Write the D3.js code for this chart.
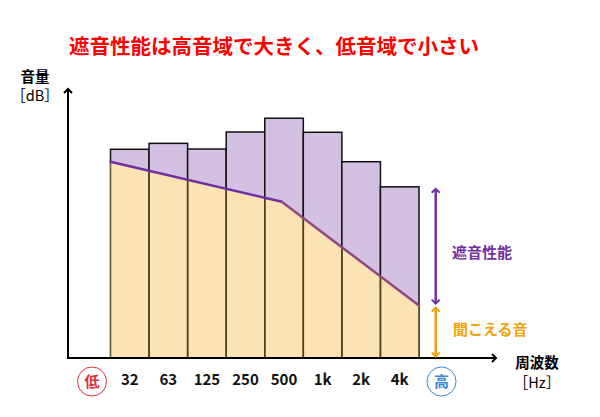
<html lang="ja">
<head>
  <meta charset="UTF-8">
  <title>遮音性能</title>
  <style>
    body { margin: 0; background: #fff; }
    text { font-family: "Noto Sans CJK JP", "Noto Sans", sans-serif; }
  </style>
</head>
<body>
  <script src="https://d3js.org/d3.v7.min.js"></script>
  <script>
    // frequency bands and sound insulation levels (bar tops)
    const bands = ["32", "63", "125", "250", "500", "1k", "2k", "4k"];
    const barValues = [77.3, 79.5, 77.4, 83.7, 88.8, 83.6, 72.7, 63.4];
    // audible sound line: position in band units, level
    const linePos = [0, 4.44, 8];
    const lineValues = [72.7, 57.9, 19.4];

    const w = 600, h = 417;
    const x0 = 68, yBase = 358;

    const svg = d3.select("body").append("svg")
      .attr("width", w)
      .attr("height", h);

    const defs = svg.append("defs");
    function marker(id, color) {
      defs.append("marker")
        .attr("id", id)
        .attr("viewBox", "-6 -6 12 12")
        .attr("markerWidth", 12)
        .attr("markerHeight", 12)
        .attr("markerUnits", "userSpaceOnUse")
        .attr("orient", "auto-start-reverse")
        .append("path")
        .attr("d", "M-4,-4 L0,0 L-4,4")
        .attr("fill", "none")
        .attr("stroke", color)
        .attr("stroke-width", 2);
    }
    marker("arrBlack", "#000");
    marker("arrPurple", "#7030a0");
    marker("arrOrange", "#f0a30a");

    //scales
    const xScale = d3.scaleBand()
      .domain(bands)
      .range([110.5, 419])
      .padding(0);
    const xPos = d3.scaleLinear()
      .domain([0, bands.length])
      .range([110.5, 419]);
    const yScale = d3.scaleLinear()
      .domain([0, 100])
      .range([yBase, 88]);

    const lineData = linePos.map((p, i) => [p, lineValues[i]]);

    //purple bars
    svg.selectAll("rect.bar")
      .data(bands)
      .enter()
      .append("rect")
      .attr("class", "bar")
      .attr("x", d => xScale(d))
      .attr("y", (d, i) => yScale(barValues[i]))
      .attr("width", xScale.bandwidth())
      .attr("height", (d, i) => yBase - yScale(barValues[i]))
      .attr("fill", "#d4c0e3")
      .attr("stroke", "#111")
      .attr("stroke-width", 1.5);

    //audible sound area
    const area = d3.area()
      .x(d => xPos(d[0]))
      .y0(yBase)
      .y1(d => yScale(d[1]));
    svg.append("path")
      .datum(lineData)
      .attr("d", area)
      .attr("fill", "#fbe3b4");

    defs.append("clipPath")
      .attr("id", "areaClip")
      .append("path")
      .datum(lineData)
      .attr("d", area);

    //bar dividers inside the yellow area
    svg.append("g")
      .attr("clip-path", "url(#areaClip)")
      .selectAll("rect")
      .data(bands)
      .enter()
      .append("rect")
      .attr("x", d => xScale(d))
      .attr("y", 0)
      .attr("width", xScale.bandwidth())
      .attr("height", yBase)
      .attr("fill", "none")
      .attr("stroke", "#4f3f1c")
      .attr("stroke-width", 1.5);

    //line segments
    const segColors = ["#7030a0", "#8e4a7e"];
    for (let i = 0; i < lineData.length - 1; i++) {
      svg.append("line")
        .attr("x1", xPos(lineData[i][0]))
        .attr("y1", yScale(lineData[i][1]))
        .attr("x2", xPos(lineData[i + 1][0]))
        .attr("y2", yScale(lineData[i + 1][1]))
        .attr("stroke", segColors[i])
        .attr("stroke-width", 2.5)
        .attr("stroke-linecap", "round");
    }

    //axes with arrows
    svg.append("line")
      .attr("x1", x0).attr("y1", yBase + 1)
      .attr("x2", x0).attr("y2", 89)
      .attr("stroke", "#000").attr("stroke-width", 2)
      .attr("marker-end", "url(#arrBlack)");
    svg.append("line")
      .attr("x1", x0 - 1).attr("y1", yBase)
      .attr("x2", 496).attr("y2", yBase)
      .attr("stroke", "#000").attr("stroke-width", 2)
      .attr("marker-end", "url(#arrBlack)");

    //x tick labels
    const xAxis = d3.axisBottom(xScale).tickSize(0).tickPadding(0);
    const gx = svg.append("g")
      .attr("transform", "translate(0," + 380 + ")")
      .call(xAxis);
    gx.select(".domain").remove();
    gx.selectAll("text")
      .attr("dy", "0.35em")
      .attr("y", 0)
      .style("font-family", "'Noto Sans CJK JP', sans-serif")
      .style("font-size", "15px")
      .style("font-weight", "bold")
      .attr("fill", "#111");

    //low/high circles
    const ends = [
      { label: "低", cx: 92, color: "#e0303a" },
      { label: "高", cx: 441.5, color: "#3a88d0" }
    ];
    ends.forEach(e => {
      svg.append("circle")
        .attr("cx", e.cx).attr("cy", 381.5).attr("r", 14.5)
        .attr("fill", "#fff").attr("stroke", e.color).attr("stroke-width", 1);
      svg.append("text")
        .attr("x", e.cx).attr("y", 381.5).attr("dy", "0.35em")
        .attr("text-anchor", "middle")
        .attr("fill", e.color)
        .style("font-size", "15px").style("font-weight", "bold")
        .text(e.label);
    });

    //double arrows on the last band
    const last = bands.length - 1;
    const ax = 435.7;
    svg.append("line")
      .attr("x1", ax).attr("y1", yScale(barValues[last]) + 2)
      .attr("x2", ax).attr("y2", yScale(lineValues[lineValues.length - 1]) - 2)
      .attr("stroke", "#7030a0").attr("stroke-width", 2.5)
      .attr("marker-start", "url(#arrPurple)")
      .attr("marker-end", "url(#arrPurple)");
    svg.append("line")
      .attr("x1", ax).attr("y1", yScale(lineValues[lineValues.length - 1]) + 2)
      .attr("x2", ax).attr("y2", yBase - 1.5)
      .attr("stroke", "#f0a30a").attr("stroke-width", 2.5)
      .attr("marker-start", "url(#arrOrange)")
      .attr("marker-end", "url(#arrOrange)");

    svg.append("text")
      .attr("x", 452).attr("y", 253).attr("dy", "0.35em")
      .attr("fill", "#7030a0")
      .style("font-size", "15px").style("font-weight", "bold")
      .text("遮音性能");
    svg.append("text")
      .attr("x", 453).attr("y", 330).attr("dy", "0.35em")
      .attr("fill", "#f0a30a")
      .style("font-size", "15px").style("font-weight", "bold")
      .text("聞こえる音");

    //title
    svg.append("text")
      .attr("x", 69).attr("y", 47).attr("dy", "0.35em")
      .attr("fill", "#ff0000")
      .style("font-size", "20.5px").style("font-weight", "bold")
      .text("遮音性能は高音域で大きく、低音域で小さい");

    //axis titles
    svg.append("text")
      .attr("x", 35).attr("y", 77).attr("dy", "0.35em")
      .attr("text-anchor", "middle")
      .style("font-size", "14.5px").style("font-weight", "bold")
      .text("音量");
    svg.append("text")
      .attr("x", 35).attr("y", 96).attr("dy", "0.35em")
      .attr("text-anchor", "middle")
      .style("font-size", "14.5px")
      .text("［dB］");
    svg.append("text")
      .attr("x", 537).attr("y", 363).attr("dy", "0.35em")
      .attr("text-anchor", "middle")
      .style("font-size", "14.5px").style("font-weight", "bold")
      .text("周波数");
    svg.append("text")
      .attr("x", 537).attr("y", 383).attr("dy", "0.35em")
      .attr("text-anchor", "middle")
      .style("font-size", "14.5px")
      .text("［Hz］");
  </script>
</body>
</html>
